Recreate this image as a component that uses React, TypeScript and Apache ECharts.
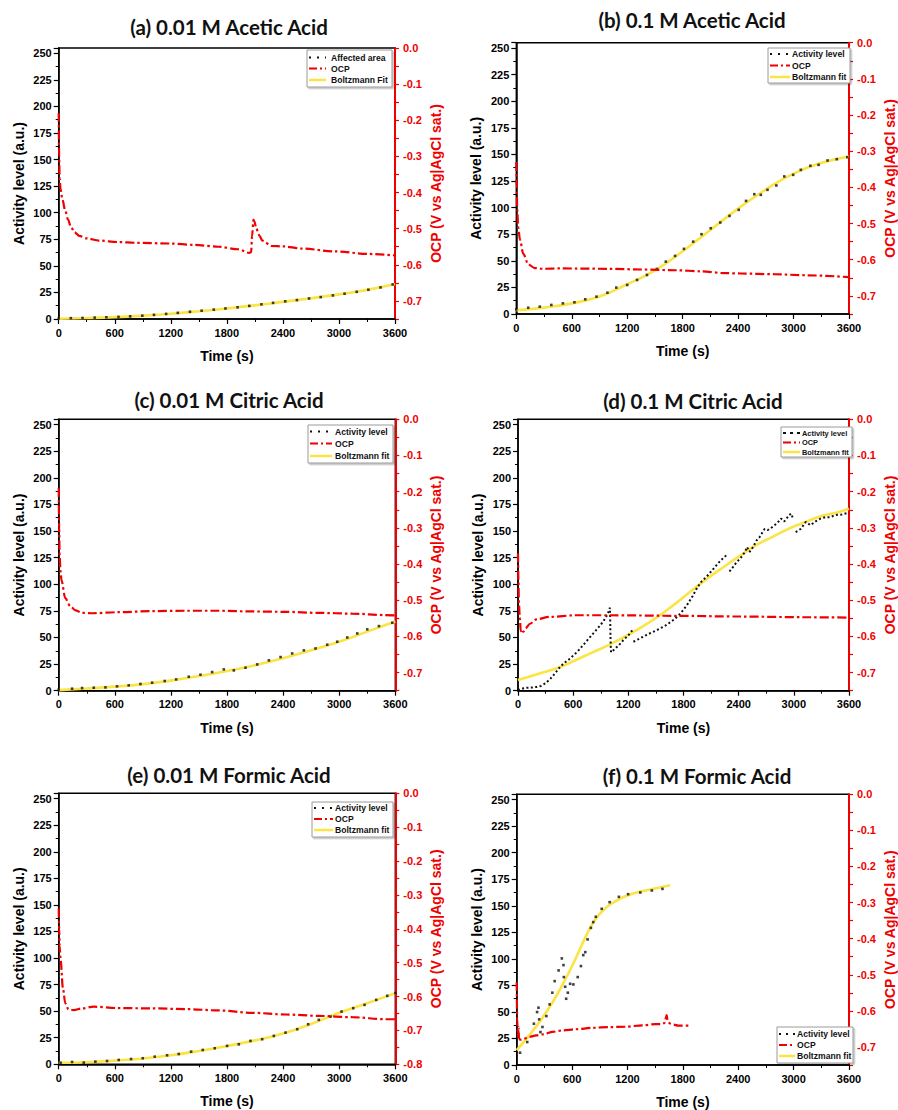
import React, { useEffect, useRef } from "react";
import * as echarts from "echarts";

type P = [number, number | string];

const TITLES = [
  "(a) 0.01 M Acetic Acid",
  "(b) 0.1 M Acetic Acid",
  "(c) 0.01 M Citric Acid",
  "(d) 0.1 M Citric Acid",
  "(e) 0.01 M Formic Acid",
  "(f) 0.1 M Formic Acid",
];

const LEGEND_A = ["Affected area", "OCP", "Boltzmann Fit"];
const LEGEND_STD = ["Activity level", "OCP", "Boltzmann fit"];

const TIME_AXIS = { min: 0, max: 3600, step: 600 };
const ACTIVITY_AXIS = { min: 0, max: 255, step: 25 };
const OCP_MIN = [-0.75, -0.75, -0.75, -0.75, -0.8, -0.75];

// ---------- (a) 0.01 M Acetic Acid ----------
const ACT_A: P[] = [
  [0, 0.5], [130, 0.8], [255, 1.0], [385, 1.3], [510, 1.6], [640, 2.0], [765, 2.5],
  [895, 3.1], [1020, 3.9], [1150, 4.8], [1275, 5.8], [1405, 6.8], [1530, 7.8],
  [1660, 8.8], [1785, 9.9], [1915, 11.0], [2040, 12.3], [2170, 13.8], [2295, 15.2],
  [2425, 16.6], [2550, 17.8], [2680, 19.3], [2805, 20.6], [2935, 22.2], [3060, 23.8],
  [3190, 25.6], [3315, 27.5], [3445, 29.7], [3575, 32.5],
];
const FIT_A: P[] = [
  [0, 0.3], [300, 0.9], [600, 1.8], [900, 3.2], [1200, 5.0], [1500, 7.3], [1800, 9.9],
  [2100, 12.8], [2400, 16.1], [2700, 19.5], [3000, 23.2], [3300, 27.4], [3600, 33],
];
const OCP_A: P[] = [
  [0, -0.18], [5, -0.3], [10, -0.36], [20, -0.39], [40, -0.42], [70, -0.45], [100, -0.475],
  [130, -0.495], [170, -0.51], [220, -0.52], [300, -0.527], [430, -0.533], [640, -0.537],
  [820, -0.539], [1180, -0.541], [1460, -0.545], [1710, -0.55], [1920, -0.557],
  [2040, -0.567], [2060, -0.565], [2070, -0.52], [2085, -0.475], [2095, -0.48],
  [2115, -0.5], [2150, -0.52], [2180, -0.533], [2280, -0.548], [2400, -0.549],
  [2600, -0.555], [2960, -0.563], [3320, -0.57], [3600, -0.574],
];

// ---------- (b) 0.1 M Acetic Acid ----------
const ACT_B: P[] = [
  [0, 4.4], [129, 5.9], [254, 6.9], [379, 8.5], [504, 10], [629, 11], [746, 13.8],
  [868, 16.3], [986, 20], [1082, 24.8], [1200, 27.3], [1307, 32], [1414, 36.7],
  [1521, 42.3], [1618, 49.2], [1718, 54.6], [1814, 61.2], [1914, 68], [2004, 75],
  [2104, 80.6], [2207, 86], [2307, 92.2], [2407, 97.9], [2486, 106.3], [2575, 112.6],
  [2646, 112], [2718, 116.7], [2814, 120.8], [2900, 129.3], [2996, 130.8], [3079, 135.5],
  [3182, 139.3], [3271, 140.2], [3368, 144.3], [3468, 145.5], [3582, 147.4],
];
const FIT_B: P[] = [
  [0, 3.5], [300, 6], [600, 10], [900, 16.5], [1200, 28], [1500, 41], [1800, 59],
  [2100, 79], [2400, 99], [2700, 117], [3000, 132], [3300, 142], [3600, 148],
];
const OCP_B: P[] = [
  [0, -0.33], [5, -0.4], [10, -0.46], [20, -0.51], [40, -0.545], [75, -0.583],
  [130, -0.613], [200, -0.623], [290, -0.625], [470, -0.624], [1000, -0.625],
  [1360, -0.627], [1720, -0.629], [2000, -0.632], [2250, -0.637], [2430, -0.638],
  [2790, -0.64], [3150, -0.643], [3600, -0.648],
];

// ---------- (c) 0.01 M Citric Acid ----------
const ACT_C: P[] = [
  [0, 1], [143, 1.9], [250, 2.5], [375, 2.8], [500, 3.1], [624, 4.1], [749, 5], [874, 6.3],
  [999, 7.5], [1134, 9.1], [1256, 10.6], [1391, 13.1], [1516, 15], [1641, 17.5],
  [1766, 20], [1873, 19.1], [1998, 21.6], [2123, 24.7], [2248, 28.5], [2373, 31.6],
  [2497, 35], [2622, 37.9], [2747, 39.7], [2872, 43.2], [2979, 46], [3086, 50],
  [3193, 53.8], [3300, 57.6], [3425, 60.7], [3568, 63.8],
];
const FIT_C: P[] = [
  [0, 0.5], [300, 2], [600, 3.8], [900, 6.2], [1200, 9.5], [1500, 13.8], [1800, 18.5],
  [2100, 24], [2400, 30.5], [2700, 38], [3000, 46], [3300, 55.5], [3600, 65],
];
const OCP_C: P[] = [
  [0, -0.19], [5, -0.3], [10, -0.38], [20, -0.42], [30, -0.445], [70, -0.494],
  [125, -0.517], [180, -0.528], [250, -0.535], [360, -0.536], [640, -0.533],
  [1000, -0.53], [1360, -0.529], [1710, -0.529], [2070, -0.531], [2420, -0.532],
  [2780, -0.535], [3140, -0.537], [3490, -0.541], [3600, -0.542],
];

// ---------- (d) 0.1 M Citric Acid ----------
const ACT_D: P[] = [
  [0, 0.5], [30, 1.5], [60, 2.3], [100, 2.8], [150, 3.0], [200, 3.5], [250, 4.5], [300, 7],
  [350, 11], [400, 16], [450, 21.5], [500, 26], [550, 29], [600, 33], [650, 37], [700, 42],
  [750, 47], [800, 52], [850, 57], [900, 62], [950, 68], [980, 73], [1000, 78],
  [1003, 66], [1005, 55], [1008, 43], [1012, 36], [1050, 39], [1100, 43], [1150, 48],
  [1200, 52], [1245, 57], [1250, "-"],
  [1255, 46], [1300, 48], [1400, 52.5], [1500, 56.5], [1600, 61], [1700, 67], [1750, 71],
  [1800, 76], [1850, 82], [1900, 89], [1950, 97], [2000, 103], [2050, 107], [2100, 112],
  [2150, 117], [2200, 122], [2250, 126], [2280, 128.5], [2290, "-"],
  [2300, 112], [2340, 116.4], [2380, 121], [2415, 124], [2470, 130.5], [2490, 135],
  [2520, 130.5], [2557, 135], [2593, 141], [2630, 144.6], [2682, 152], [2718, 151],
  [2771, 154], [2825, 158], [2861, 161.7], [2896, 159], [2932, 163], [2968, 166.5],
  [2993, 161.7], [3005, "-"],
  [3020, 149], [3075, 152], [3130, 158.6], [3182, 155.5], [3236, 159], [3290, 161.7],
  [3343, 163], [3396, 163], [3450, 165], [3521, 165.5], [3600, 167.5],
];
const FIT_D: P[] = [
  [0, 10], [270, 17], [450, 22], [630, 28.8], [810, 36], [990, 43], [1160, 50.7],
  [1340, 59.5], [1520, 69.5], [1700, 81], [1880, 93.5], [2060, 105.5], [2240, 116.5],
  [2410, 126.5], [2590, 136.7], [2770, 144.6], [2950, 152.4], [3130, 158.6],
  [3310, 164.3], [3490, 168], [3600, 171],
];
const OCP_D: P[] = [
  [0, -0.37], [5, -0.45], [10, -0.51], [20, -0.55], [30, -0.585], [40, -0.592],
  [60, -0.586], [80, -0.578], [130, -0.565], [200, -0.553], [340, -0.546],
  [630, -0.5415], [990, -0.5415], [1700, -0.543], [2410, -0.545], [3130, -0.547],
  [3600, -0.548],
];

// ---------- (e) 0.01 M Formic Acid ----------
const ACT_E: P[] = [
  [20, 1.5], [143, 2.2], [268, 1.6], [392, 2.5], [517, 3.1], [642, 4.1], [774, 5],
  [899, 5.7], [1027, 7.2], [1159, 8.5], [1284, 9.7], [1416, 11.9], [1541, 13.5],
  [1669, 15.1], [1801, 17.3], [1926, 18.8], [2051, 22], [2176, 23.6], [2301, 26.7],
  [2426, 29.8], [2551, 33], [2668, 37.7], [2782, 41.8], [2907, 44.9], [3025, 49.6],
  [3150, 52.8], [3271, 55.9], [3396, 60.6], [3514, 64.4], [3600, 67],
];
const FIT_E: P[] = [
  [0, 1.5], [300, 2], [600, 3.5], [900, 5.5], [1200, 8.5], [1500, 12.5], [1800, 17.3],
  [2100, 22.5], [2400, 29], [2700, 38], [3000, 48.5], [3300, 57.5], [3600, 67],
];
const OCP_E: P[] = [
  [0, -0.34], [5, -0.4], [10, -0.45], [20, -0.49], [45, -0.575], [70, -0.62],
  [105, -0.638], [160, -0.64], [250, -0.635], [375, -0.63], [640, -0.634],
  [1000, -0.635], [1360, -0.637], [1710, -0.641], [2070, -0.648], [2430, -0.653],
  [2780, -0.657], [3140, -0.661], [3500, -0.667], [3600, -0.667],
];

// ---------- (f) 0.1 M Formic Acid ----------
const ACT_F: P[] = [
  [36, 11.6], [114, 21.6], [186, 38.9], [221, 49.9], [236, 54], [243, 43], [257, 31],
  [279, 35.8], [321, 46.1], [357, 57.1], [386, 68.1], [411, 79], [454, 89.1],
  [489, 100.4], [507, 94.1], [511, 82.8], [525, 73.7], [536, 62.4], [554, 68.1],
  [579, 76.5], [614, 75.9], [661, 82.8], [696, 93.2], [721, 103.5], [743, 106.3],
  [768, 118.3], [804, 129.2], [829, 134.6], [857, 139.6], [921, 147.1], [1007, 153.4],
  [1107, 158.4], [1207, 160.9], [1339, 162.5], [1464, 164.4], [1579, 165.9],
];
const FIT_F: P[] = [
  [0, 14], [107, 24.8], [214, 36.7], [321, 49.9], [429, 65], [536, 82.2], [643, 101],
  [750, 121.4], [857, 137.7], [964, 148], [1071, 154.3], [1179, 159], [1357, 163.7],
  [1536, 166.9], [1661, 169.4],
];
const OCP_F: P[] = [
  [0, -0.52], [5, -0.62], [10, -0.66], [15, -0.672], [20, -0.645], [25, -0.676],
  [40, -0.68], [70, -0.678], [140, -0.672], [210, -0.668], [290, -0.665], [390, -0.658],
  [500, -0.654], [640, -0.651], [820, -0.647], [1000, -0.645], [1180, -0.644],
  [1360, -0.64], [1500, -0.637], [1570, -0.637], [1600, -0.634], [1615, -0.62],
  [1625, -0.612], [1635, -0.628], [1660, -0.635], [1700, -0.638], [1750, -0.641],
  [1860, -0.641],
];

const RED = "#f00000";
const YELLOW = "#fbe443";
const BOLD_SANS = '"Liberation Sans", Arial, sans-serif';

interface Panel {
  title: string;
  cx: number;
  ty: number;
  grid: [number, number, number, number];
  ocpMin: number;
  act: P[];
  actLine: boolean;
  fit: P[];
  ocp: P[];
  legendNames: string[];
  lg: { x: number; y: number; w: number; h: number; rows: number[]; sx: number; sw: number; tx: number; fs: number; actDash: number[] };
}

const PANELS: Panel[] = [
  {
    title: TITLES[0], cx: 229, ty: 27, grid: [58.7, 48, 336.3, 271], ocpMin: OCP_MIN[0],
    act: ACT_A, actLine: false, fit: FIT_A, ocp: OCP_A, legendNames: LEGEND_A,
    lg: { x: 307, y: 50, w: 85, h: 37, rows: [57.5, 68.5, 80], sx: 309, sw: 17, tx: 331, fs: 8.6, actDash: [2, 6] },
  },
  {
    title: TITLES[1], cx: 692, ty: 20, grid: [516.3, 42.7, 336, 271.3], ocpMin: OCP_MIN[1],
    act: ACT_B, actLine: false, fit: FIT_B, ocp: OCP_B, legendNames: LEGEND_STD,
    lg: { x: 768, y: 48, w: 82, h: 35, rows: [54, 65.5, 77], sx: 770, sw: 20, tx: 792, fs: 8.6, actDash: [2, 6] },
  },
  {
    title: TITLES[2], cx: 229, ty: 400, grid: [58.7, 419.3, 336.6, 271.4], ocpMin: OCP_MIN[2],
    act: ACT_C, actLine: false, fit: FIT_C, ocp: OCP_C, legendNames: LEGEND_STD,
    lg: { x: 308, y: 425, w: 85, h: 38, rows: [431.5, 443.5, 456], sx: 310, sw: 22, tx: 335, fs: 8.6, actDash: [2, 6] },
  },
  {
    title: TITLES[3], cx: 693, ty: 401, grid: [518, 419.3, 336, 271.4], ocpMin: OCP_MIN[3],
    act: ACT_D, actLine: true, fit: FIT_D, ocp: OCP_D, legendNames: LEGEND_STD,
    lg: { x: 781, y: 427, w: 71, h: 30, rows: [433, 442.5, 452], sx: 783, sw: 17, tx: 802, fs: 7.4, actDash: [3, 4] },
  },
  {
    title: TITLES[4], cx: 229, ty: 775, grid: [58.7, 793.3, 336.6, 271], ocpMin: OCP_MIN[4],
    act: ACT_E, actLine: false, fit: FIT_E, ocp: OCP_E, legendNames: LEGEND_STD,
    lg: { x: 312, y: 802, w: 81, h: 35, rows: [808, 819, 830], sx: 314, sw: 19, tx: 335, fs: 8.6, actDash: [2, 6] },
  },
  {
    title: TITLES[5], cx: 697, ty: 776, grid: [516.7, 794.3, 336, 271.4], ocpMin: OCP_MIN[5],
    act: ACT_F, actLine: false, fit: FIT_F, ocp: OCP_F, legendNames: LEGEND_STD,
    lg: { x: 777, y: 1027, w: 76, h: 36, rows: [1034, 1045, 1056], sx: 779, sw: 16, tx: 797, fs: 8.6, actDash: [2, 5] },
  },
];

function buildOption() {
  const grid = PANELS.map((p) => ({
    left: p.grid[0], top: p.grid[1], width: p.grid[2], height: p.grid[3],
    show: true, borderColor: "#000", borderWidth: 1.4, backgroundColor: "transparent",
    containLabel: false,
  }));

  const axisNameStyle = (color: string) => ({
    color, fontSize: 14, fontWeight: "bold" as const, fontFamily: BOLD_SANS,
  });
  const labelStyle = (color: string) => ({
    color, fontSize: 11, fontWeight: "bold" as const, fontFamily: BOLD_SANS,
  });

  const xAxis = PANELS.map((p, i) => ({
    type: "value", gridIndex: i,
    min: TIME_AXIS.min, max: TIME_AXIS.max, interval: TIME_AXIS.step,
    name: "Time (s)", nameLocation: "middle", nameGap: 30,
    nameTextStyle: axisNameStyle("#000"),
    axisLine: { show: true, onZero: false, lineStyle: { color: "#000", width: 1.5 } },
    axisTick: { show: true, inside: false, length: 5, lineStyle: { color: "#000", width: 1.2 } },
    minorTick: { show: true, splitNumber: 2, length: 3, lineStyle: { color: "#000", width: 1 } },
    splitLine: { show: false },
    axisLabel: { ...labelStyle("#000"), margin: 8, formatter: (v: number) => String(Math.round(v)) },
  }));

  const yAxis: any[] = [];
  PANELS.forEach((p, i) => {
    yAxis.push({
      type: "value", gridIndex: i, position: "left",
      min: ACTIVITY_AXIS.min, max: ACTIVITY_AXIS.max, interval: ACTIVITY_AXIS.step,
      name: "Activity level (a.u.)", nameLocation: "middle", nameGap: 33, nameRotate: 90,
      nameTextStyle: axisNameStyle("#000"),
      axisLine: { show: true, onZero: false, lineStyle: { color: "#000", width: 1.5 } },
      axisTick: { show: true, inside: false, length: 5, lineStyle: { color: "#000", width: 1.2 } },
      minorTick: { show: true, splitNumber: 2, length: 3, lineStyle: { color: "#000", width: 1 } },
      splitLine: { show: false },
      axisLabel: {
        ...labelStyle("#000"), margin: 7,
        formatter: (v: number) => (Math.abs(v % ACTIVITY_AXIS.step) < 1e-9 ? String(v) : ""),
      },
    });
    yAxis.push({
      type: "value", gridIndex: i, position: "right",
      min: p.ocpMin, max: 0, interval: 0.05,
      name: "OCP (V vs Ag|AgCl sat.)", nameLocation: "middle", nameGap: 34, nameRotate: 90,
      nameTextStyle: axisNameStyle(RED),
      axisLine: { show: true, onZero: false, lineStyle: { color: RED, width: 2 } },
      axisTick: { show: true, inside: false, length: 4, lineStyle: { color: RED, width: 1.2 } },
      splitLine: { show: false },
      axisLabel: {
        ...labelStyle(RED), margin: 8,
        formatter: (v: number) => {
          const r = Math.round(v * 100);
          return r % 10 === 0 ? (r / 100).toFixed(1) : "";
        },
      },
    });
  });

  const series: any[] = [];
  PANELS.forEach((p, i) => {
    series.push({
      name: p.legendNames[2], type: "line", xAxisIndex: i, yAxisIndex: 2 * i,
      data: p.fit, smooth: true, showSymbol: false, symbol: "none",
      lineStyle: { color: YELLOW, width: 2.6 }, z: 2,
    });
    if (p.actLine) {
      series.push({
        name: p.legendNames[0], type: "line", xAxisIndex: i, yAxisIndex: 2 * i,
        data: p.act, showSymbol: false, symbol: "none", connectNulls: false,
        lineStyle: { color: "#111", width: 2, type: [2, 2.4] }, z: 3,
      });
    } else {
      series.push({
        name: p.legendNames[0], type: "scatter", xAxisIndex: i, yAxisIndex: 2 * i,
        data: p.act, symbol: "rect", symbolSize: 2.6,
        itemStyle: { color: "#111" }, z: 3,
      });
    }
    series.push({
      name: p.legendNames[1], type: "line", xAxisIndex: i, yAxisIndex: 2 * i + 1,
      data: p.ocp, smooth: 0.3, smoothMonotone: "x", showSymbol: false, symbol: "none",
      lineStyle: { color: RED, width: 2.2, type: [9, 3, 2.5, 3] }, z: 4,
    });
  });

  const graphic: any[] = [];
  PANELS.forEach((p) => {
    graphic.push({
      type: "text", silent: true, z: 100,
      style: {
        text: p.title, x: p.cx, y: p.ty, align: "center", verticalAlign: "middle",
        fontSize: 20.5, fontWeight: "bold", fontFamily: "Lato, 'Open Sans', sans-serif", fill: "#111",
      },
    });
    const l = p.lg;
    graphic.push({
      type: "rect", silent: true, z: 100,
      shape: { x: l.x, y: l.y, width: l.w, height: l.h },
      style: {
        fill: "#fff", stroke: "#9a9a9a", lineWidth: 1,
        shadowColor: "rgba(0,0,0,0.25)", shadowBlur: 1.5, shadowOffsetX: 1.5, shadowOffsetY: 1.5,
      },
    });
    graphic.push({
      type: "line", silent: true, z: 101,
      shape: { x1: l.sx, y1: l.rows[0], x2: l.sx + l.sw, y2: l.rows[0] },
      style: { stroke: "#111", lineWidth: 2, lineDash: l.actDash },
    });
    graphic.push({
      type: "line", silent: true, z: 101,
      shape: { x1: l.sx, y1: l.rows[1], x2: l.sx + l.sw, y2: l.rows[1] },
      style: { stroke: RED, lineWidth: 2, lineDash: [8, 3, 2, 3] },
    });
    graphic.push({
      type: "line", silent: true, z: 101,
      shape: { x1: l.sx, y1: l.rows[2], x2: l.sx + l.sw, y2: l.rows[2] },
      style: { stroke: YELLOW, lineWidth: 2.5 },
    });
    p.legendNames.forEach((n, k) => {
      graphic.push({
        type: "text", silent: true, z: 101,
        style: {
          text: n, x: l.tx, y: l.rows[k], align: "left", verticalAlign: "middle",
          fontSize: l.fs, fontWeight: "bold", fontFamily: BOLD_SANS, fill: "#111",
        },
      });
    });
  });

  return {
    animation: false,
    backgroundColor: "#fff",
    grid, xAxis, yAxis, series, graphic,
  };
}

export default function App() {
  const ref = useRef<HTMLDivElement | null>(null);
  useEffect(() => {
    if (!ref.current) return;
    const chart = echarts.init(ref.current, undefined, { renderer: "svg" });
    chart.setOption(buildOption() as any);
    return () => chart.dispose();
  }, []);
  return (
    <div
      ref={ref}
      style={{ position: "absolute", left: 0, top: 0, width: 898, height: 1110, background: "#fff" }}
    />
  );
}
